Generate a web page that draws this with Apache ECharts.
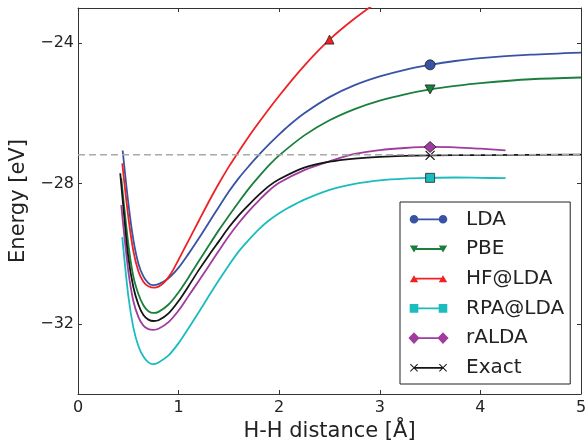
<!DOCTYPE html>
<html><head><meta charset="utf-8">
<script src="https://cdn.jsdelivr.net/npm/echarts@6/dist/echarts.min.js"></script>
<style>html,body{margin:0;padding:0;background:#fff}#c{width:588px;height:444px}</style>
</head><body><div id="c"></div>
<script>
// ---- data (H-H distance in Å, energy in eV) ----
const seriesNames = ['LDA', 'PBE', 'HF@LDA', 'RPA@LDA', 'rALDA', 'Exact'];

const ldaX = [0.444,0.5,0.55,0.6,0.65,0.7,0.745,0.8,0.9,1.0,1.1,1.2,1.3,1.4,1.5,1.6,1.7,1.8,1.9,2.0,2.1,2.25,2.5,2.75,3.0,3.25,3.5,3.75,4.0,4.5,5.0];
const ldaY = [-27.06,-28.55,-29.6,-30.28,-30.65,-30.84,-30.9,-30.87,-30.7,-30.4,-30.0,-29.57,-29.12,-28.67,-28.23,-27.84,-27.5,-27.18,-26.88,-26.6,-26.34,-26.0,-25.54,-25.2,-24.95,-24.76,-24.62,-24.51,-24.43,-24.33,-24.27];

const pbeX = [0.43,0.5,0.55,0.6,0.65,0.7,0.75,0.8,0.9,1.0,1.1,1.2,1.3,1.4,1.5,1.6,1.7,1.8,1.9,2.0,2.25,2.5,2.75,3.0,3.25,3.5,3.75,4.0,4.5,5.0];
const pbeY = [-27.85,-29.72,-30.65,-31.15,-31.47,-31.64,-31.69,-31.66,-31.45,-31.1,-30.67,-30.22,-29.77,-29.33,-28.92,-28.52,-28.14,-27.8,-27.48,-27.2,-26.63,-26.2,-25.88,-25.64,-25.46,-25.32,-25.22,-25.14,-25.03,-24.98];

const hfX = [0.44,0.5,0.55,0.6,0.65,0.7,0.76,0.8,0.85,0.9,0.95,1.0,1.1,1.2,1.3,1.4,1.5,1.6,1.75,2.0,2.25,2.5,2.75,3.0];
const hfY = [-27.43,-28.95,-29.92,-30.5,-30.8,-30.93,-30.97,-30.94,-30.84,-30.67,-30.44,-30.17,-29.62,-29.07,-28.52,-28.0,-27.52,-27.08,-26.45,-25.5,-24.64,-23.9,-23.3,-22.78];

const rpaX = [0.44,0.5,0.55,0.6,0.65,0.7,0.745,0.8,0.9,1.0,1.1,1.2,1.3,1.4,1.5,1.6,1.7,1.8,1.9,2.0,2.1,2.25,2.5,2.75,3.0,3.25,3.5,3.75,4.0,4.25];
const rpaY = [-29.53,-31.2,-32.1,-32.63,-32.93,-33.1,-33.15,-33.1,-32.9,-32.55,-32.12,-31.67,-31.21,-30.76,-30.33,-29.93,-29.6,-29.3,-29.05,-28.85,-28.68,-28.46,-28.18,-28.01,-27.91,-27.86,-27.84,-27.83,-27.84,-27.85];

const raldaX = [0.43,0.45,0.5,0.55,0.6,0.65,0.7,0.75,0.8,0.9,1.0,1.1,1.2,1.3,1.4,1.5,1.6,1.7,1.8,1.9,2.0,2.25,2.5,2.75,3.0,3.25,3.5,3.75,4.0,4.25];
const raldaY = [-28.62,-29.2,-30.5,-31.35,-31.8,-32.05,-32.15,-32.17,-32.14,-31.95,-31.62,-31.2,-30.78,-30.35,-29.92,-29.5,-29.12,-28.78,-28.48,-28.2,-27.98,-27.62,-27.37,-27.16,-27.05,-26.99,-26.96,-26.97,-27.01,-27.06];

const exactX = [0.42,0.45,0.5,0.55,0.6,0.65,0.7,0.75,0.8,0.9,1.0,1.1,1.2,1.3,1.4,1.5,1.6,1.7,1.8,1.9,2.0,2.25,2.5,2.75,3.0,3.5,4.0,5.0];
const exactY = [-27.71,-28.65,-30.1,-30.95,-31.45,-31.75,-31.88,-31.92,-31.9,-31.7,-31.35,-30.92,-30.47,-30.05,-29.65,-29.25,-28.9,-28.6,-28.32,-28.07,-27.88,-27.55,-27.38,-27.29,-27.24,-27.2,-27.19,-27.18];

// x position of the single marker drawn on each curve
const markerX = [3.5, 3.5, 2.5, 3.5, 3.5, 3.5];
// dashed reference (exact dissociation limit)
const refLineX = [0, 5];
const refLineY = [-27.18, -27.18];

const xTicks = [0, 1, 2, 3, 4, 5];
const yTicks = [-32, -28, -24];

// ---- styling ----
const FONT = 'DejaVu Sans';
const AX = '#333333';
const colors = ['#3953a4', '#1a7f3c', '#ee2124', '#1bbcbe', '#a03c9e', '#151515'];
const EDGE = '#222222';
const symbolDefs = [
  {symbol: 'circle', symbolSize: 10},
  {symbol: 'triangle', symbolSize: [10, 9], symbolRotate: 180},
  {symbol: 'triangle', symbolSize: [9, 9]},
  {symbol: 'rect', symbolSize: 9},
  {symbol: 'diamond', symbolSize: [12, 11]},
  {symbol: 'path://M0,0 L10,10 M10,0 L0,10', symbolSize: 9, stroke: true}
];

const pad = 'M0,0 M53,20 ';
const lineBar = 'M6,9.1 L35,9.1 L35,10.9 L6,10.9 Z ';
function circ(cx) { const r = 4.3; return `M${cx-r},10 A${r},${r} 0 1,1 ${cx+r},10 A${r},${r} 0 1,1 ${cx-r},10 Z `; }
function triDown(cx) { return `M${cx-4.2},6.5 L${cx+4.2},6.5 L${cx},13.5 Z `; }
function triUp(cx) { return `M${cx},6.5 L${cx+4.2},13.5 L${cx-4.2},13.5 Z `; }
function sq(cx) { return `M${cx-4.3},5.7 L${cx+4.3},5.7 L${cx+4.3},14.3 L${cx-4.3},14.3 Z `; }
function dia(cx) { return `M${cx},4.2 L${cx+5.6},10 L${cx},15.8 L${cx-5.6},10 Z `; }
function cross(cx) {
  const a = cx - 4, b = cx + 4;
  return `M${a},6.7 L${a+0.7},6 L${b},13.3 L${b-0.7},14 Z M${b-0.7},6 L${b},6.7 L${a+0.7},14 L${a},13.3 Z `;
}
const iconFns = [circ, triDown, triUp, sq, dia, cross];
const legendIcons = iconFns.map(f => 'path://' + pad + lineBar + f(6) + f(35));

const xsAll = [ldaX, pbeX, hfX, rpaX, raldaX, exactX];
const ysAll = [ldaY, pbeY, hfY, rpaY, raldaY, exactY];

function buildData(i) {
  const xs = xsAll[i], ys = ysAll[i];
  return xs.map((x, k) => {
    if (Math.abs(x - markerX[i]) < 1e-9) {
      const d = symbolDefs[i];
      const item = {value: [x, ys[k]], symbol: d.symbol, symbolSize: d.symbolSize};
      if (d.symbolRotate) item.symbolRotate = d.symbolRotate;
      item.itemStyle = d.stroke
        ? {color: colors[i], borderColor: colors[i], borderWidth: 1.2, opacity: 1}
        : {color: colors[i], borderColor: EDGE, borderWidth: 0.8, opacity: 1};
      return item;
    }
    return [x, ys[k]];
  });
}

const series = seriesNames.map((name, i) => ({
  name: name,
  type: 'line',
  data: buildData(i),
  symbol: 'none',
  showSymbol: true,
  showAllSymbol: true,
  smooth: 0.3,
  lineStyle: {color: colors[i], width: 1.8},
  itemStyle: {color: colors[i]},
  emphasis: {disabled: true},
  z: 2
}));

series.push({
  name: 'ref',
  type: 'line',
  data: refLineX.map((x, k) => [x, refLineY[k]]),
  symbol: 'none',
  lineStyle: {color: '#aaaaaa', width: 1.4, type: [7, 4]},
  emphasis: {disabled: true},
  silent: true,
  z: 3
});

const minus = v => (v < 0 ? '\u2212' : '') + Math.abs(v);

const baseAxisLine = {show: true, onZero: false, lineStyle: {color: AX, width: 1}};
const baseTick = {show: true, inside: true, length: 4, lineStyle: {color: AX, width: 1}};

const option = {
  animation: false,
  backgroundColor: '#ffffff',
  textStyle: {fontFamily: FONT},
  grid: {left: 78, right: 7, top: 8, bottom: 50, containLabel: false, outerBoundsMode: 'none'},
  xAxis: [
    {
      type: 'value', min: xTicks[0], max: xTicks[xTicks.length - 1], interval: 1,
      position: 'bottom',
      axisLine: baseAxisLine, axisTick: baseTick,
      axisLabel: {margin: 6, fontSize: 16, color: '#222', fontFamily: FONT},
      splitLine: {show: false},
      name: 'H-H distance [Å]', nameLocation: 'middle', nameGap: 27,
      nameTextStyle: {fontSize: 21, color: '#222', fontFamily: FONT}
    },
    {
      type: 'value', min: xTicks[0], max: xTicks[xTicks.length - 1], interval: 1,
      position: 'top',
      axisLine: baseAxisLine, axisTick: baseTick,
      axisLabel: {show: false}, splitLine: {show: false}
    }
  ],
  yAxis: [
    {
      type: 'value', min: -34, max: -23,
      position: 'left',
      axisLine: baseAxisLine,
      axisTick: Object.assign({customValues: yTicks}, baseTick),
      axisLabel: {customValues: yTicks, margin: 4, fontSize: 16, color: '#222', fontFamily: FONT, formatter: minus},
      splitLine: {show: false},
      name: 'Energy [eV]', nameLocation: 'middle', nameGap: 42,
      nameTextStyle: {fontSize: 21, color: '#222', fontFamily: FONT}
    },
    {
      type: 'value', min: -34, max: -23,
      position: 'right',
      axisLine: baseAxisLine,
      axisTick: Object.assign({customValues: yTicks}, baseTick),
      axisLabel: {show: false}, splitLine: {show: false}
    }
  ],
  legend: {
    orient: 'vertical',
    left: 400, top: 202,
    padding: [7.3, 6, 6.2, 8],
    itemWidth: 53, itemHeight: 20, itemGap: 9.7,
    backgroundColor: '#ffffff',
    borderColor: '#222', borderWidth: 1, borderRadius: 0,
    selectedMode: false,
    textStyle: {fontSize: 20, color: '#222', fontFamily: FONT, lineHeight: 20},
    data: seriesNames.map((n, i) => ({
      name: n, icon: legendIcons[i],
      itemStyle: {color: colors[i], borderWidth: 0, opacity: 1}
    })),
    z: 10
  },
  series: series
};

const chart = echarts.init(document.getElementById('c'), null, {renderer: 'canvas'});
chart.setOption(option);
</script>
</body></html>
